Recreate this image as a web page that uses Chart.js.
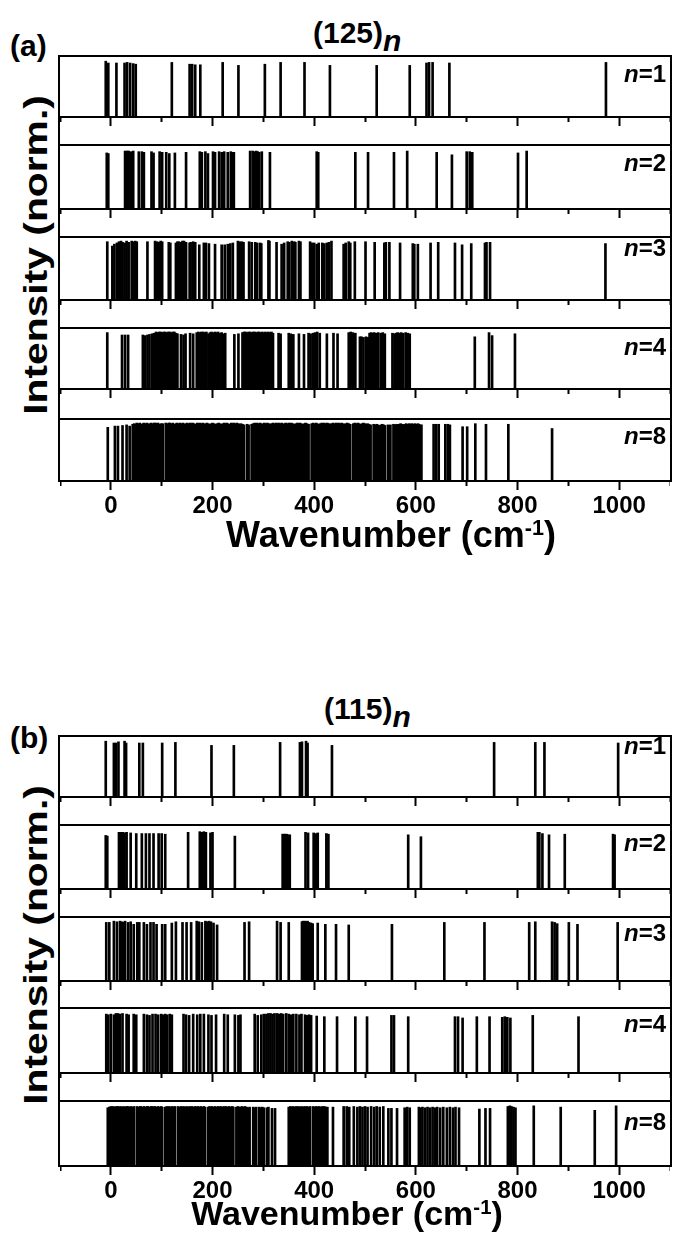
<!DOCTYPE html>
<html lang="en">
<head>
<meta charset="UTF-8">
<title>(125)n and (115)n stick spectra</title>
<script src="https://cdn.jsdelivr.net/npm/chart.js"></script>
<style>
  body{margin:0;background:#fff;width:673px;height:1240px;position:relative;overflow:hidden;
       font-family:"Liberation Sans",Arial,sans-serif;font-weight:bold;color:#000}
  .line{position:absolute;background:#000}
  .txt{position:absolute;white-space:nowrap;line-height:1}
  .cv{position:absolute}
  .sup{position:relative;top:-0.55em;font-size:60%}
</style>
</head>
<body>
<script>
// ---- data: [wavenumber (cm-1), normalized intensity] ----
const a1 = [[-10,.93],[-5,.90],[11,.90],[27,.90],[32,.91],[38,.90],[44,.89],[49,.88],
  [120,.91],[155,.88],[160,.88],[166,.87],[176,.87],[220,.91],[251,.86],
  [303,.88],[334,.91],[381,.91],[431,.86],[523,.86],[588,.86],
  [621,.90],[626,.91],[633,.91],[666,.90],[974,.91]];

const a2 = [[-8,.89],[-5,.88],[28,.92],[32,.92],[35,.92],[39,.91],[44,.92],[55,.91],[61,.91],[65,.90],
  [80,.91],[84,.89],[96,.91],[101,.90],[109,.90],[115,.88],[126,.89],[148,.90],[175,.91],[179,.90],
  [186,.91],[191,.88],[201,.91],[205,.90],[213,.91],[218,.90],[223,.91],[230,.90],[236,.91],[239,.90],
  [242,.90],[274,.92],[279,.92],[282,.91],[286,.92],[289,.91],[292,.90],[297,.91],[313,.90],[405,.91],
  [408,.90],[481,.90],[506,.90],[557,.90],[583,.92],[641,.90],[671,.86],[700,.91],[706,.91],[711,.90],
  [801,.89],[818,.92]];

const a3 = [[-7,.94],[3,.87],[7,.90],[12,.92],[16,.94],[20,.95],[23,.93],[27,.92],[31,.95],[35,.93],
  [41,.95],[45,.94],[48,.95],[51,.94],[72,.94],[87,.95],[91,.94],[95,.93],[98,.95],[101,.94],
  [114,.93],[117,.92],[128,.92],[131,.94],[134,.94],[138,.93],[141,.95],[144,.95],[148,.93],[155,.92],
  [157,.93],[162,.94],[166,.93],[174,.89],[183,.92],[187,.92],[193,.91],[205,.90],[218,.89],[224,.89],
  [230,.90],[235,.91],[240,.92],[250,.95],[254,.94],[258,.94],[261,.93],[272,.94],[277,.93],[284,.93],
  [288,.92],[294,.92],[296,.91],[310,.96],[312,.95],[326,.93],[336,.90],[341,.92],[348,.94],[351,.93],
  [356,.95],[361,.94],[363,.93],[370,.95],[373,.94],[392,.94],[396,.92],[400,.92],[405,.90],[409,.92],
  [416,.92],[420,.91],[425,.92],[429,.93],[434,.95],[458,.90],[462,.92],[468,.94],[471,.92],[480,.94],
  [501,.94],[519,.93],[538,.92],[541,.93],[548,.93],[569,.92],[594,.91],[597,.90],[604,.90],[629,.92],
  [644,.93],[677,.92],[691,.89],[709,.91],[736,.92],[739,.93],[746,.93],[973,.91]];

const a4 = [[-7,.94],[22,.90],[28,.90],[34,.90],[63,.90],[67,.89],[72,.90],[76,.91],[81,.92],[85,.93],
  [89,.95],[92,.94],[95,.95],[98,.95],[101,.94],[104,.95],[107,.95],[110,.94],[113,.95],[116,.95],
  [119,.94],[122,.95],[125,.95],[128,.93],[131,.92],[138,.91],[143,.90],[147,.92],[156,.93],[162,.92],
  [169,.94],[172,.95],[175,.94],[178,.95],[182,.95],[185,.94],[188,.95],[192,.92],
  [195,.94],[198,.95],[201,.94],[205,.95],[208,.94],[211,.95],[214,.93],[218,.94],[221,.92],
  [225,.93],[243,.91],[251,.92],
  [259,.94],[262,.95],[265,.95],[268,.94],[271,.95],[274,.95],[277,.94],[280,.95],[283,.95],[286,.94],
  [289,.95],[292,.95],[295,.94],[298,.95],[301,.94],[304,.95],[307,.94],[310,.95],[313,.94],[316,.95],[319,.93],
  [330,.93],[334,.92],[350,.93],[354,.92],[359,.91],[370,.92],[380,.91],[389,.93],[393,.92],[398,.93],
  [402,.94],[406,.95],[411,.93],[425,.92],[438,.93],[446,.92],[468,.94],[472,.95],[476,.94],[481,.93],
  [490,.87],[493,.87],[497,.86],[502,.87],[506,.86],
  [509,.93],[512,.94],[515,.93],[518,.94],[521,.93],[526,.94],[531,.93],[535,.94],[539,.92],
  [554,.93],[558,.92],[561,.93],[564,.94],[567,.93],[571,.94],[575,.93],[580,.94],[584,.93],[588,.92],
  [716,.87],[744,.94],[750,.89],[795,.92]];

const a8 = [[-6,.88],[8,.90],[14,.90],[23,.91],[31,.92],[37,.90],[43,.93],
  [46,.94],[49,.93],[51,.95],[54,.94],[57,.95],[60,.93],[63,.94],[65,.95],[68,.94],[71,.95],
  [74,.94],[77,.93],[79,.95],[82,.94],[85,.95],[88,.95],[91,.94],[93,.95],[96,.93],[99,.94],[102,.94],
  [108,.95],[111,.94],[114,.95],[116,.95],[119,.94],[122,.95],[125,.93],[128,.94],[130,.95],[133,.94],
  [136,.95],[139,.94],[142,.95],[144,.93],[147,.94],[150,.95],[153,.94],[156,.95],[158,.94],[161,.95],
  [164,.94],[167,.93],[170,.95],[172,.94],[175,.95],[178,.94],[181,.95],[184,.93],[186,.94],[189,.95],
  [192,.94],[195,.93],[198,.94],[200,.95],[203,.94],[206,.93],[209,.94],[212,.95],[214,.94],[217,.93],
  [220,.94],[223,.95],[226,.94],[228,.95],[231,.94],[234,.93],[237,.95],[240,.94],[242,.95],[245,.94],
  [248,.95],[251,.94],[254,.93],[256,.94],[259,.93],[262,.92],[268,.93],[271,.92],
  [277,.93],[280,.94],[283,.95],[285,.94],[288,.95],[291,.94],[294,.95],[297,.93],[299,.94],[302,.95],
  [305,.94],[308,.95],[311,.94],[313,.93],[316,.94],[319,.95],[322,.94],[325,.95],[327,.94],[330,.95],
  [333,.94],[336,.95],[339,.93],[341,.94],[344,.95],[347,.94],[350,.95],[353,.94],[355,.95],[358,.94],
  [361,.93],[364,.94],[367,.95],[369,.94],[372,.95],[375,.94],[378,.93],[381,.94],[383,.95],[386,.94],[389,.93],
  [395,.94],[398,.95],[401,.94],[404,.95],[406,.94],[409,.93],[412,.94],[415,.95],[418,.94],[420,.95],
  [423,.94],[426,.95],[429,.94],[432,.93],[434,.94],[437,.95],[440,.94],[443,.95],[446,.94],[448,.95],
  [451,.94],[454,.95],[457,.94],[460,.93],[462,.94],[465,.95],[468,.94],[471,.93],
  [477,.94],[480,.95],[483,.94],[486,.95],[488,.94],[491,.93],[494,.94],[497,.95],[500,.94],[502,.93],
  [505,.94],[508,.93],[511,.92],
  [517,.93],[520,.92],[523,.93],[525,.92],[528,.91],[531,.92],[534,.93],[537,.92],[539,.91],
  [545,.92],[548,.91],[550,.92],
  [556,.93],[559,.92],[562,.93],[564,.92],[567,.93],[570,.94],[573,.93],[576,.92],[578,.93],[581,.94],
  [584,.93],[587,.94],[590,.93],[592,.94],[595,.93],[598,.94],[601,.93],[604,.94],[606,.93],[609,.92],[611,.92],
  [635,.93],[640,.93],[645,.93],[658,.93],[663,.93],[667,.92],[692,.89],[701,.89],[717,.94],[738,.93],
  [782,.93],[868,.86]];

const b1 = [[-10,.93],[6,.90],[10,.90],[15,.92],[27,.93],[30,.90],[56,.90],[63,.90],[101,.90],[127,.91],
  [198,.86],[242,.86],[333,.91],[372,.91],[376,.92],[384,.93],[387,.90],[435,.86],[754,.91],[835,.91],
  [853,.91],[998,.90]];

const b2 = [[-10,.85],[-7,.84],[16,.90],[20,.90],[24,.90],[27,.89],[31,.90],[39,.89],[50,.88],[61,.88],
  [69,.88],[76,.88],[84,.88],[94,.88],[100,.88],[107,.87],[152,.90],[175,.91],[179,.90],[183,.91],
  [187,.90],[196,.89],[200,.90],[244,.84],[338,.87],[340,.87],[343,.87],[346,.87],[349,.86],[352,.86],
  [383,.90],[388,.89],[399,.89],[403,.88],[407,.89],[424,.88],[428,.87],[585,.86],[610,.83],[840,.90],
  [843,.90],[849,.88],[862,.86],[893,.87],[988,.87],[991,.86]];

const b3 = [[-9,.93],[-3,.93],[6,.95],[12,.94],[18,.95],[22,.94],[25,.93],[28,.95],[34,.93],[39,.94],
  [45,.90],[52,.93],[56,.93],[65,.93],[71,.90],[78,.93],[84,.93],[90,.90],[101,.90],[107,.90],
  [120,.92],[128,.94],[141,.93],[149,.93],[158,.93],[169,.95],[173,.94],[179,.93],[186,.95],[189,.94],
  [193,.95],[197,.94],[202,.92],[209,.89],[263,.93],[272,.94],[327,.95],[334,.93],[350,.93],[376,.94],
  [378,.95],[382,.95],[384,.94],[387,.95],[390,.93],[394,.92],[397,.91],[407,.92],[422,.90],[443,.90],
  [468,.89],[553,.90],[656,.93],[735,.93],[823,.93],[835,.94],[868,.94],[873,.93],[878,.91],[901,.93],
  [918,.90],[997,.93]];

const b4 = [[-9,.92],[-5,.91],[0,.92],[6,.91],[10,.93],[14,.93],[18,.92],[23,.93],[31,.92],[35,.91],
  [45,.92],[50,.91],[65,.92],[71,.91],[76,.90],[82,.92],[88,.92],[93,.91],[99,.92],[103,.91],
  [107,.92],[111,.91],[116,.92],[120,.91],[143,.92],[148,.91],[154,.90],[162,.92],[170,.91],[176,.92],
  [183,.92],[192,.91],[198,.90],[207,.91],[223,.92],[230,.91],[244,.91],[251,.90],[255,.91],[283,.92],
  [289,.90],[296,.91],[301,.92],[306,.92],[310,.93],[314,.93],[318,.92],[322,.93],[327,.93],[331,.92],
  [335,.93],[339,.92],[345,.93],[350,.92],[354,.91],[359,.92],[365,.92],[371,.91],[375,.92],[382,.91],
  [386,.90],[390,.91],[394,.90],[405,.89],[420,.88],[445,.88],[481,.88],[504,.88],[552,.90],[557,.90],
  [585,.88],[677,.88],[683,.88],[692,.86],[720,.88],[745,.88],[770,.87],[775,.88],[780,.87],[786,.86],
  [830,.90],[920,.88]];

const b8 = [[-6,.91],[-3,.92],[0,.93],[3,.92],[5,.93],[8,.92],[11,.93],[14,.93],[17,.92],[19,.93],
  [22,.92],[25,.93],[28,.92],[31,.93],[33,.93],[36,.92],[39,.93],[42,.92],[45,.93],
  [51,.93],[54,.92],[57,.93],[59,.93],[62,.92],[65,.93],[68,.92],[71,.93],[73,.93],[76,.92],
  [79,.93],[82,.93],[85,.92],[87,.93],[90,.92],[93,.93],[96,.92],[99,.93],[101,.92],
  [107,.92],[110,.93],[113,.92],[115,.93],[118,.92],[121,.93],[124,.92],[126,.93],
  [132,.93],[135,.92],[138,.93],[141,.92],[143,.93],[146,.92],[149,.93],[152,.92],[155,.93],[157,.92],
  [160,.93],[163,.92],[166,.93],[169,.92],[171,.93],[174,.92],[177,.93],[180,.92],[183,.93],[185,.92],
  [191,.92],[194,.93],[197,.92],[199,.93],[202,.92],[205,.93],[208,.92],[211,.93],[213,.92],[216,.93],
  [219,.92],[222,.93],[225,.92],[227,.93],[230,.92],[233,.93],[236,.92],[239,.93],[241,.92],
  [247,.92],[250,.93],[253,.92],[255,.92],[258,.93],[261,.92],[264,.93],[267,.92],[270,.91],[273,.92],
  [280,.92],[283,.91],[286,.92],[292,.92],[295,.91],[298,.92],[301,.91],[307,.91],[310,.92],[317,.90],[323,.90],
  [350,.92],[353,.93],[355,.92],[358,.93],[361,.92],[364,.93],[367,.92],[369,.93],[372,.92],[375,.93],
  [378,.92],[381,.93],[383,.92],[386,.93],[389,.92],[392,.93],
  [398,.93],[401,.92],[404,.93],[406,.92],[409,.93],[412,.92],[415,.93],[418,.92],[420,.93],[423,.92],[426,.92],
  [437,.92],[458,.93],[464,.93],[469,.92],[478,.93],[485,.92],[490,.93],[495,.92],[500,.93],[505,.92],
  [512,.93],[518,.92],[523,.93],[529,.92],[536,.93],[546,.90],[552,.90],[563,.90],[578,.91],[583,.92],[588,.91],
  [606,.92],[609,.91],[613,.92],[618,.91],[623,.92],[628,.91],[633,.92],[638,.91],[642,.92],[648,.91],
  [654,.92],[661,.91],[667,.92],[673,.91],[678,.92],[685,.91],
  [725,.89],[737,.90],[746,.90],[781,.93],[785,.94],[788,.93],[792,.92],[796,.91],[832,.94],[885,.92],
  [952,.87],[994,.94]];

const majorTicks = [0, 200, 400, 600, 800, 1000];
const minorTicks = [-100, 100, 300, 500, 700, 900, 1100];
const nValues = ['1', '2', '3', '4', '8'];

// ---- layout (page pixels) ----
const FONT = '"Liberation Sans", Arial, sans-serif';
const groups = [
  { sets: [a1, a2, a3, a4, a8], tops: [56, 145, 237, 328, 419], bases: [117, 209, 300, 389, 481],
    labOff: [18, 18, 11, 19, 17], tag: '(a)', tagY: 46, title: '(125)', titleX: 313, titleY: 33,
    yLabY: 255, xTitleX: 391, xTitleY: 535, xTitleSize: 36 },
  { sets: [b1, b2, b3, b4, b8], tops: [736, 825, 917, 1008, 1101], bases: [797, 889, 981, 1073, 1166],
    labOff: [10, 18, 16, 16, 21], tag: '(b)', tagY: 738, title: '(115)', titleX: 324, titleY: 709,
    yLabY: 945, xTitleX: 347, xTitleY: 1213, xTitleSize: 34 }
];

function add(tag, cls, css, html) {
  const e = document.createElement(tag);
  if (cls) e.className = cls;
  Object.assign(e.style, css);
  if (html != null) e.innerHTML = html;
  document.body.appendChild(e);
  return e;
}

function stickChart(cv, sticks, last) {
  return new Chart(cv, {
    type: 'bar',
    data: {
      datasets: [{
        data: sticks.map(s => ({ x: s[0], y: s[1] })),
        xAxisID: 'x', yAxisID: 'y',
        backgroundColor: '#000', borderWidth: 0, barThickness: 2
      }]
    },
    options: {
      responsive: false, animation: false, events: [],
      layout: { padding: 0 },
      plugins: { legend: { display: false }, tooltip: { enabled: false } },
      scales: {
        x: {
          type: 'linear', position: 'bottom', min: -100, max: 1100, offset: false,
          afterBuildTicks: s => { s.ticks = majorTicks.map(v => ({ value: v })); },
          grid: { offset: false, drawOnChartArea: false, tickLength: 9, tickWidth: 2, tickColor: '#000' },
          border: { display: true, width: 2, color: '#000' },
          ticks: {
            display: last, autoSkip: false, maxRotation: 0, padding: 4, color: '#000',
            font: { family: FONT, size: 24, weight: 'bold', lineHeight: 1 },
            callback: v => String(v)
          }
        },
        xm: {
          axis: 'x', type: 'linear', position: { y: 0 }, min: -100, max: 1100, offset: false,
          afterBuildTicks: s => { s.ticks = minorTicks.map(v => ({ value: v })); },
          grid: { offset: false, drawOnChartArea: false, tickLength: 5, tickWidth: 2, tickColor: '#000' },
          border: { display: false },
          ticks: { display: false }
        },
        y: { display: false, min: 0, max: 1 }
      }
    }
  });
}

groups.forEach(g => {
  const top0 = g.tops[0], botN = g.bases[4];
  // continuous outer frame sides
  add('div', 'line', { left: '58px', top: (top0 - 1) + 'px', width: '2px', height: (botN - top0 + 2) + 'px' });
  add('div', 'line', { left: '670px', top: (top0 - 1) + 'px', width: '2px', height: (botN - top0 + 2) + 'px' });

  g.sets.forEach((sticks, i) => {
    const t = g.tops[i], b = g.bases[i], last = i === 4;
    add('div', 'line', { left: '58px', top: (t - 1) + 'px', width: '614px', height: '2px' });
    const cv = document.createElement('canvas');
    cv.className = 'cv';
    cv.width = 610;
    cv.height = (b - t - 1) + (last ? 41 : 9);
    cv.style.left = '60px';
    cv.style.top = (t + 1) + 'px';
    document.body.appendChild(cv);
    stickChart(cv, sticks, last);
    add('div', 'txt', { right: '7px', top: (t + g.labOff[i]) + 'px', fontSize: '24px', transform: 'translateY(-50%)' },
      '<i>n</i>=' + nValues[i]);
  });

  add('div', 'txt', { left: g.titleX + 'px', top: g.titleY + 'px', fontSize: '30px', transform: 'translateY(-50%)' },
    g.title + '<i style="position:relative;top:8px">n</i>');
  add('div', 'txt', { left: '10px', top: g.tagY + 'px', fontSize: '30px', transform: 'translateY(-50%)' }, g.tag);
  add('div', 'txt', { left: '35px', top: g.yLabY + 'px', fontSize: '34px',
    transform: 'translate(-50%,-50%) rotate(-90deg) scaleX(1.2)' }, 'Intensity (norm.)');
  add('div', 'txt', { left: g.xTitleX + 'px', top: g.xTitleY + 'px', fontSize: g.xTitleSize + 'px',
    transform: 'translate(-50%,-50%)' }, 'Wavenumber (cm<span class="sup">-1</span>)');
});
</script>
</body>
</html>
